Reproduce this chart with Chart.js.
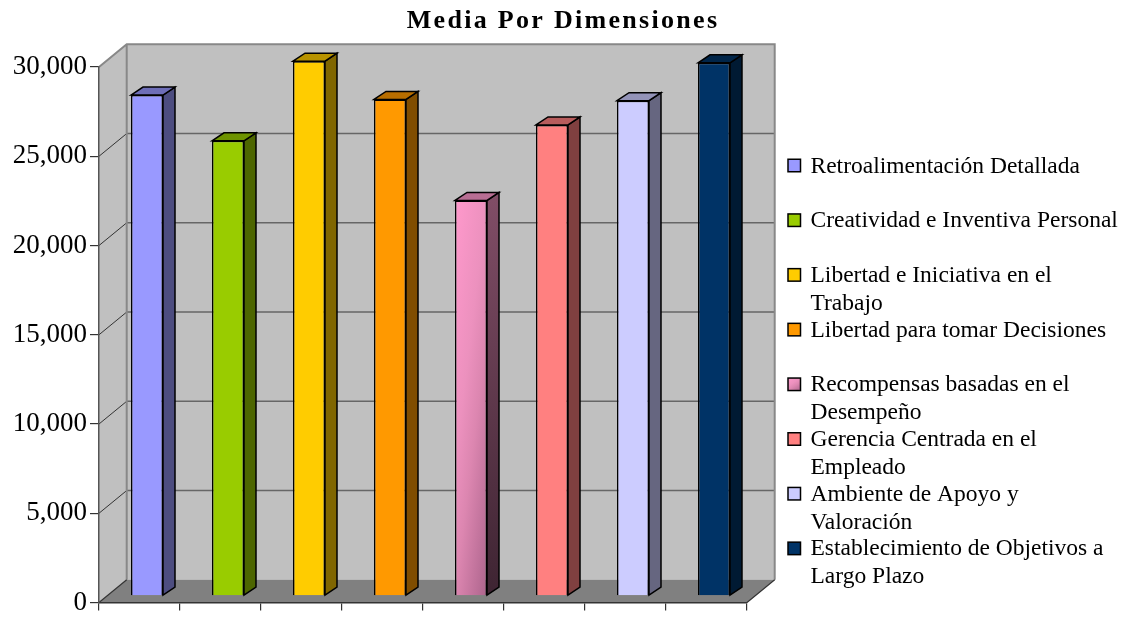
<!DOCTYPE html>
<html>
<head>
<meta charset="utf-8">
<title>Media Por Dimensiones</title>
<script src="https://cdn.jsdelivr.net/npm/chart.js@4/dist/chart.umd.min.js"></script>
<style>
  html, body { margin: 0; padding: 0; background: #fff; }
  #wrap { width: 1123px; height: 619px; }
</style>
</head>
<body>
<div id="wrap"><canvas id="chart"></canvas></div>
<script>
const chartTitle = 'Media Por Dimensiones'
const dimensions = [
  'Retroalimentación Detallada',
  'Creatividad e Inventiva Personal',
  'Libertad e Iniciativa en el Trabajo',
  'Libertad para tomar Decisiones',
  'Recompensas basadas en el Desempeño',
  'Gerencia Centrada en el Empleado',
  'Ambiente de Apoyo y Valoración',
  'Establecimiento de Objetivos a Largo Plazo',
]
const means = [28050, 25490, 29950, 27810, 22150, 26380, 27740, 29860]
const yMin = 0
const yMax = 30000
const yStep = 5000

// bar face colours; the 5th bar has a diagonal fade
const barColors = ['#9999ff', '#99cc00', '#ffcc00', '#ff9900', '#ff99cc', '#ff8080', '#ccccff', '#003366']
const fadeStops = { 4: [[0, '#ff99cc'], [0.4, '#ec91be'], [0.6, '#dc86b0'], [1, '#ac648c']] }
const FADE_WX = 0.4
const FADE_WY = 0.6

// oblique projection: back wall offset and the bars' own depth
const WALL_DX = 27.7
const WALL_DY = 22.7
const BAR_SHIFT_X = 7.5
const BAR_SHIFT_Y = 6.7
const BAR_DX = 12
const BAR_DY = 8
const BAR_PCT = 0.395

const SERIF = '"Liberation Serif", "Times New Roman", serif'

function shade(hex, f) {
  const n = parseInt(hex.slice(1), 16)
  const r = Math.round(((n >> 16) & 255) * f)
  const g = Math.round(((n >> 8) & 255) * f)
  const b = Math.round((n & 255) * f)
  return `rgb(${r}, ${g}, ${b})`
}

// corner-to-corner fade measured in the box's own unit space
function boxFill(ctx, i, x, y, w, h) {
  const stops = fadeStops[i]
  if (!stops) return barColors[i]
  const a = FADE_WX
  const b = FADE_WY
  const k = (a + b) / ((a * a) / (w * w) + (b * b) / (h * h))
  const grad = ctx.createLinearGradient(x, y, x + (k * a) / w, y + (k * b) / h)
  stops.forEach(([t, col]) => grad.addColorStop(t, col))
  return grad
}

function sideFill(ctx, i, yTop, yBase) {
  const stops = fadeStops[i]
  if (!stops) return shade(barColors[i], 0.5)
  const grad = ctx.createLinearGradient(0, yTop, 0, yBase)
  grad.addColorStop(0, shade(stops[0][1], 0.5))
  grad.addColorStop(1, shade(stops[stops.length - 1][1], 0.36))
  return grad
}

// title, walls, floor and back grid, drawn before the axes
const wallsPlugin = {
  id: 'walls',
  beforeDraw(chart) {
    const { ctx, chartArea: a, scales: { y } } = chart
    const bTop = a.top - WALL_DY
    const bBottom = a.bottom - WALL_DY
    ctx.save()

    ctx.font = `bold 26px ${SERIF}`
    ctx.fillStyle = '#000'
    ctx.textAlign = 'center'
    ctx.textBaseline = 'alphabetic'
    ctx.letterSpacing = '2.3px'
    ctx.fillText(chartTitle, 563, 27.5)
    ctx.letterSpacing = '0px'

    // back wall
    ctx.fillStyle = '#c0c0c0'
    ctx.fillRect(a.left + WALL_DX, bTop, a.width, a.height)
    // left wall
    ctx.beginPath()
    ctx.moveTo(a.left, a.top)
    ctx.lineTo(a.left + WALL_DX, bTop)
    ctx.lineTo(a.left + WALL_DX, bBottom)
    ctx.lineTo(a.left, a.bottom)
    ctx.closePath()
    ctx.fill()
    // floor
    ctx.fillStyle = '#808080'
    ctx.beginPath()
    ctx.moveTo(a.left, a.bottom)
    ctx.lineTo(a.left + WALL_DX, bBottom)
    ctx.lineTo(a.right + WALL_DX, bBottom)
    ctx.lineTo(a.right, a.bottom)
    ctx.closePath()
    ctx.fill()

    // grid lines on back and left walls
    for (let v = yMin + yStep; v < yMax; v += yStep) {
      const py = y.getPixelForValue(v)
      ctx.strokeStyle = '#666'
      ctx.lineWidth = 1.6
      ctx.beginPath()
      ctx.moveTo(a.left + WALL_DX, py - WALL_DY)
      ctx.lineTo(a.right + WALL_DX, py - WALL_DY)
      ctx.stroke()
      ctx.strokeStyle = '#333'
      ctx.lineWidth = 1
      ctx.beginPath()
      ctx.moveTo(a.left, py)
      ctx.lineTo(a.left + WALL_DX, py - WALL_DY)
      ctx.stroke()
    }

    // wall edges
    ctx.strokeStyle = '#888'
    ctx.lineWidth = 2
    ctx.beginPath()
    ctx.moveTo(a.left, a.top)
    ctx.lineTo(a.left + WALL_DX, bTop)
    ctx.lineTo(a.right + WALL_DX, bTop)
    ctx.lineTo(a.right + WALL_DX, bBottom)
    ctx.moveTo(a.left + WALL_DX, bTop)
    ctx.lineTo(a.left + WALL_DX, bBottom)
    ctx.stroke()
    ctx.strokeStyle = '#333'
    ctx.lineWidth = 1.2
    ctx.beginPath()
    ctx.moveTo(a.right, a.bottom)
    ctx.lineTo(a.right + WALL_DX, bBottom)
    ctx.moveTo(a.left, a.bottom)
    ctx.lineTo(a.left + WALL_DX, bBottom)
    ctx.stroke()
    ctx.restore()
  },
}

// front faces are drawn by Chart.js slightly set back; sides and tops added here
const boxPlugin = {
  id: 'box3d',
  beforeDatasetsDraw(chart) {
    chart.ctx.save()
    chart.ctx.translate(BAR_SHIFT_X, -BAR_SHIFT_Y)
  },
  afterDatasetsDraw(chart) {
    const ctx = chart.ctx
    const meta = chart.getDatasetMeta(0)
    ctx.lineWidth = 1.5
    ctx.strokeStyle = '#000'
    ctx.lineJoin = 'miter'
    meta.data.forEach((bar, i) => {
      const { x, y, base, width } = bar.getProps(['x', 'y', 'base', 'width'], true)
      const x0 = x - width / 2
      const x1 = x + width / 2
      ctx.beginPath()
      ctx.moveTo(x1, y)
      ctx.lineTo(x1 + BAR_DX, y - BAR_DY)
      ctx.lineTo(x1 + BAR_DX, base - BAR_DY)
      ctx.lineTo(x1, base)
      ctx.closePath()
      ctx.fillStyle = sideFill(ctx, i, y, base)
      ctx.fill()
      ctx.stroke()
      ctx.beginPath()
      ctx.moveTo(x0, y)
      ctx.lineTo(x0 + BAR_DX, y - BAR_DY)
      ctx.lineTo(x1 + BAR_DX, y - BAR_DY)
      ctx.lineTo(x1, y)
      ctx.closePath()
      ctx.fillStyle = shade(barColors[i], 0.72)
      ctx.fill()
      ctx.stroke()
    })
    ctx.restore()
  },
}

// legend on the right, wrapped to the available width
const legendPlugin = {
  id: 'sideLegend',
  afterDraw(chart) {
    const ctx = chart.ctx
    const left = 788
    const box = 12.5
    const textX = 810.5
    const maxW = 311
    const lineH = 28
    ctx.save()
    ctx.font = `23.5px ${SERIF}`
    ctx.textBaseline = 'alphabetic'
    ctx.textAlign = 'left'
    dimensions.forEach((label, i) => {
      const cy = 165.5 + i * 54.7
      ctx.fillStyle = boxFill(ctx, i, left, cy - box / 2, box, box)
      ctx.fillRect(left, cy - box / 2, box, box)
      ctx.strokeStyle = '#000'
      ctx.lineWidth = 1.5
      ctx.strokeRect(left, cy - box / 2, box, box)
      const lines = []
      let cur = ''
      label.split(' ').forEach((w) => {
        const test = cur ? cur + ' ' + w : w
        if (cur && ctx.measureText(test).width > maxW) {
          lines.push(cur)
          cur = w
        } else {
          cur = test
        }
      })
      lines.push(cur)
      ctx.fillStyle = '#000'
      lines.forEach((ln, k) => ctx.fillText(ln, textX, cy + 7 + k * lineH))
    })
    ctx.restore()
  },
}

new Chart(document.getElementById('chart'), {
  type: 'bar',
  data: {
    labels: dimensions,
    datasets: [
      {
        data: means,
        backgroundColor: (c) => {
          const i = c.dataIndex
          const chart = c.chart
          if (!fadeStops[i] || !chart.chartArea) return barColors[i]
          const xs = chart.scales.x
          const ys = chart.scales.y
          const w = (xs.width / dimensions.length) * BAR_PCT
          const top = ys.getPixelForValue(means[i])
          return boxFill(chart.ctx, i, xs.getPixelForValue(i) - w / 2, top, w, ys.bottom - top)
        },
        borderColor: '#000',
        borderWidth: 1.5,
        barPercentage: BAR_PCT,
        categoryPercentage: 1,
        clip: false,
      },
    ],
  },
  options: {
    responsive: true,
    maintainAspectRatio: false,
    animation: false,
    locale: 'en-US',
    layout: { padding: { left: 0, top: 67, right: 376, bottom: 6 } },
    plugins: {
      legend: { display: false },
      title: { display: false },
      tooltip: { enabled: false },
    },
    scales: {
      x: {
        grid: { offset: true, drawOnChartArea: false, tickLength: 8, color: '#333', lineWidth: 1.2 },
        border: { color: '#333', width: 1.5 },
        ticks: { display: false },
        afterFit: (s) => { s.height = 8 },
      },
      y: {
        min: yMin,
        max: yMax,
        ticks: {
          stepSize: yStep,
          color: '#000',
          padding: 3,
          font: { family: SERIF, size: 27, lineHeight: 1 },
          callback: (v) => v.toLocaleString('en-US'),
        },
        grid: { drawOnChartArea: false, tickLength: 9, color: '#333', lineWidth: 1.2 },
        border: { color: '#555', width: 1.5 },
        afterFit: (s) => { s.width = 99 },
      },
    },
  },
  plugins: [wallsPlugin, boxPlugin, legendPlugin],
})
</script>
</body>
</html>
